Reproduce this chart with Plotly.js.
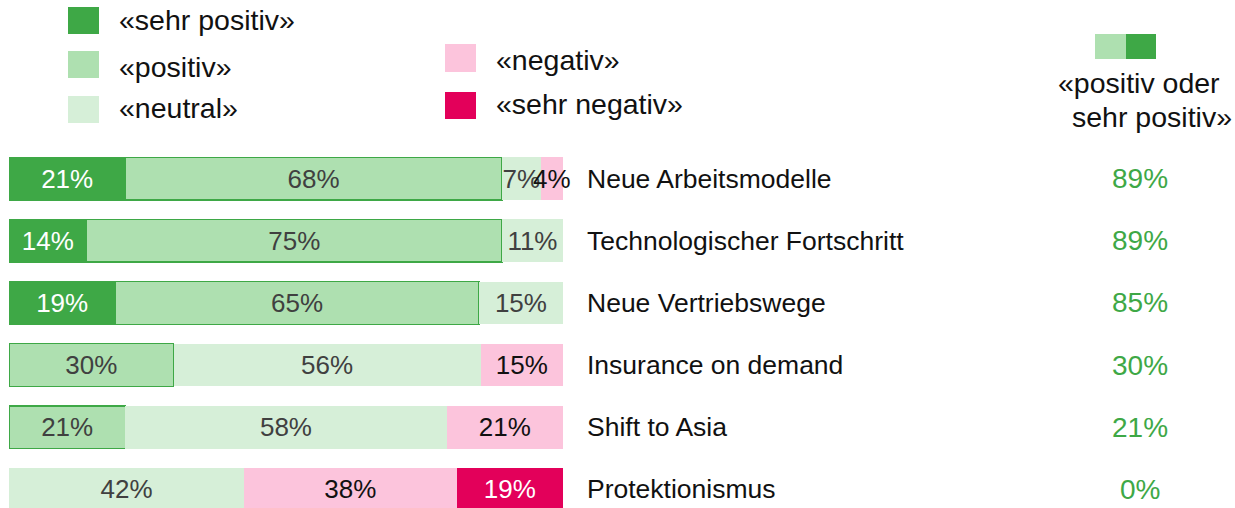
<!DOCTYPE html>
<html>
<head>
<meta charset="utf-8">
<script src="https://cdn.plot.ly/plotly-3.0.1.min.js"></script>
<style>html,body{margin:0;padding:0;background:#fff;}#chart{width:1235px;height:508px;}</style>
</head>
<body>
<div id="chart"></div>
<script>
const categories = ["Neue Arbeitsmodelle", "Technologischer Fortschritt", "Neue Vertriebswege", "Insurance on demand", "Shift to Asia", "Protektionismus"];
const sehrPositiv = [21, 14, 19, null, null, null];
const positiv = [68, 75, 65, 30, 21, null];
const neutral = [7, 11, 15, 56, 58, 42];
const negativ = [4, null, null, 15, 21, 38];
const sehrNegativ = [null, null, null, null, null, 19];
const positivOderSehrPositiv = [89, 89, 85, 30, 21, 0];
const seriesNames = ["«sehr positiv»", "«positiv»", "«neutral»", "«negativ»", "«sehr negativ»"];
const summaryLabel = ["«positiv oder", "sehr positiv»"];

const FONT = "Liberation Sans, Arial, sans-serif";
const C = {
  sp: "#3ea846", p: "#aee0b0", n: "#d6efd8", neg: "#fcc4dc", sn: "#e3005a"
};
const W = 1235, H = 508, ML = 9, MR = 672, MT = 148, MB = 0;
const PW = W - ML - MR, PH = H - MT - MB;
const px = x => (x - ML) / PW;
const py = y => (H - MB - y) / PH;
const FS_BAR = 26, FS_CAT = 26.5, FS_LEG = 28.5, FS_NUM = 28;
const barW = 0.687;

function mk(vals, name, color, textColor, line) {
  return {
    type: "bar", orientation: "h", name: name,
    y: categories, x: vals,
    text: vals.map(v => v == null ? "" : v + "%"),
    textposition: "inside", insidetextanchor: "middle", textangle: 0,
    constraintext: "none", cliponaxis: false,
    textfont: {family: FONT, size: FS_BAR, color: textColor},
    marker: {color: color, line: line || {width: 0}},
    width: barW, hoverinfo: "none", showlegend: false
  };
}
const outline = {color: "#3ea846", width: 1.5};
const data = [
  mk(sehrPositiv, seriesNames[0], C.sp, "#ffffff", outline),
  mk(positiv, seriesNames[1], C.p, "#404040", outline),
  mk(neutral, seriesNames[2], C.n, "#404040"),
  mk(negativ, seriesNames[3], C.neg, "#111111"),
  mk(sehrNegativ, seriesNames[4], C.sn, "#ffffff")
];

const shapes = [];
const annotations = [];
function legendBox(x0, y0, x1, y1, color) {
  shapes.push({type: "rect", xref: "paper", yref: "paper", x0: px(x0), x1: px(x1), y0: py(y1), y1: py(y0), fillcolor: color, line: {width: 0}});
}
function txt(x, y, text, anchor, color, size) {
  annotations.push({xref: "paper", yref: "paper", x: px(x), y: py(y), text: text, showarrow: false,
    xanchor: anchor, yanchor: "middle", font: {family: FONT, size: size || FS_LEG, color: color || "#111111"}});
}
legendBox(68, 7, 99, 34, C.sp);  txt(117, 20, seriesNames[0], "left");
legendBox(68, 51, 99, 78, C.p);  txt(117, 67, seriesNames[1], "left");
legendBox(68, 96, 99, 123, C.n); txt(117, 108, seriesNames[2], "left");
legendBox(445, 44, 476, 72, C.neg); txt(494, 60, seriesNames[3], "left");
legendBox(445, 92, 476, 119, C.sn); txt(494, 104, seriesNames[4], "left");
legendBox(1095, 34, 1126, 59, C.p);
legendBox(1126, 34, 1156, 59, C.sp);
txt(1139, 83, summaryLabel[0], "center");
txt(1152, 117, summaryLabel[1], "center");

categories.forEach((c, i) => {
  annotations.push({xref: "paper", yref: "y", x: px(585), y: c, text: c, showarrow: false,
    xanchor: "left", yanchor: "middle", font: {family: FONT, size: FS_CAT, color: "#111111"}});
  annotations.push({xref: "paper", yref: "y", x: px(1140), y: c, text: positivOderSehrPositiv[i] + "%", showarrow: false,
    xanchor: "center", yanchor: "middle", font: {family: FONT, size: FS_NUM, color: "#3ea846"}});
});

const layout = {
  width: W, height: H,
  margin: {l: ML, r: MR, t: MT, b: MB, pad: 0},
  barmode: "stack", barnorm: "percent",
  paper_bgcolor: "#ffffff", plot_bgcolor: "#ffffff",
  xaxis: {visible: false, range: [0, 100.02], fixedrange: true},
  yaxis: {visible: false, type: "category", range: [5.301, -0.494], fixedrange: true},
  shapes: shapes, annotations: annotations,
  showlegend: false, font: {family: FONT}
};
Plotly.newPlot("chart", data, layout, {displayModeBar: false, staticPlot: true});
</script>
</body>
</html>
